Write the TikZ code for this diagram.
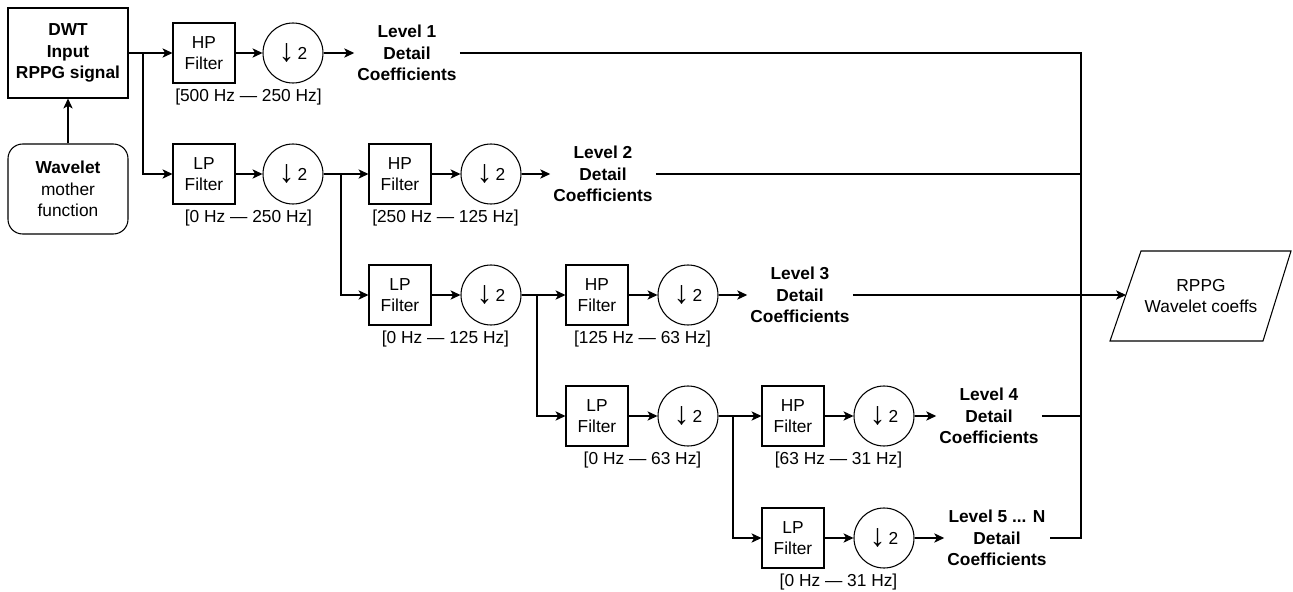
\documentclass[tikz,border=0pt]{standalone}
\usepackage{fontspec}
\setmainfont{Liberation Sans}
\usetikzlibrary{arrows.meta,calc}
\newcommand\dnsamp{\raisebox{-1.5pt}{\fontsize{24}{24}\selectfont ↓}\,2}
\begin{document}
\begin{tikzpicture}[x=0.75pt,y=-0.75pt,
  font=\fontsize{13}{16}\selectfont,
  line width=0.8pt,
  >={Stealth[length=7.5pt,width=7pt,inset=2pt]},
  filt/.style={draw,minimum width=46.5pt,minimum height=45pt,align=center,inner sep=0pt},
  down/.style={draw,circle,minimum size=45pt,inner sep=0pt},
  mainbox/.style={draw,minimum width=90pt,minimum height=67.5pt,align=center,inner sep=0pt},
  lvl/.style={align=center,font=\fontsize{13}{16}\selectfont\bfseries,inner sep=2pt},
  band/.style={anchor=north,inner sep=0pt,yshift=-3.5pt},
]
\useasboundingbox (0,0) rectangle (1293,592);

% input
\node[mainbox,font=\fontsize{13}{16}\selectfont\bfseries] (dwt) at (68,53) {DWT\\Input\\RPPG signal};
\node[mainbox,rounded corners=11pt] (wav) at (68,189) {\textbf{Wavelet}\\mother\\function};
\draw[->] (wav.north) -- (dwt.south);

% level 1
\node[filt] (hp1) at (204,53) {HP\\Filter};
\node[down] (ds1) at (293,53) {\dnsamp};
\node[lvl] (L1) at (407,53) {Level 1\\Detail\\Coefficients};
\node[filt] (lp1) at (204,174) {LP\\Filter};
\node[down] (dl1) at (293,174) {\dnsamp};
\node[band] (t1) at ($(hp1.south)!0.5!(ds1.south)$) {[500 Hz — 250 Hz]};
\node[band] (t2) at ($(lp1.south)!0.5!(dl1.south)$) {[0 Hz — 250 Hz]};
\coordinate (b1) at (143,53);
\draw[->] (dwt.east) -- (hp1.west);
\draw[->] (b1) |- (lp1.west);
\draw[->] (hp1.east) -- (ds1.west);
\draw[->] (ds1.east) -- (L1.west);
\draw[->] (lp1.east) -- (dl1.west);

% level 2
\node[filt] (hp2) at (400,174) {HP\\Filter};
\node[down] (ds2) at (491,174) {\dnsamp};
\node[lvl] (L2) at (603,174) {Level 2\\Detail\\Coefficients};
\node[filt] (lp2) at (400,295) {LP\\Filter};
\node[down] (dl2) at (491,295) {\dnsamp};
\node[band] (t3) at ($(hp2.south)!0.5!(ds2.south)$) {[250 Hz — 125 Hz]};
\node[band] (t4) at ($(lp2.south)!0.5!(dl2.south)$) {[0 Hz — 125 Hz]};
\coordinate (b2) at (341,174);
\draw[->] (dl1.east) -- (hp2.west);
\draw[->] (b2) |- (lp2.west);
\draw[->] (hp2.east) -- (ds2.west);
\draw[->] (ds2.east) -- (L2.west);
\draw[->] (lp2.east) -- (dl2.west);

% level 3
\node[filt] (hp3) at (597,295) {HP\\Filter};
\node[down] (ds3) at (688,295) {\dnsamp};
\node[lvl] (L3) at (800,295) {Level 3\\Detail\\Coefficients};
\node[filt] (lp3) at (597,416) {LP\\Filter};
\node[down] (dl3) at (688,416) {\dnsamp};
\node[band] (t5) at ($(hp3.south)!0.5!(ds3.south)$) {[125 Hz — 63 Hz]};
\node[band] (t6) at ($(lp3.south)!0.5!(dl3.south)$) {[0 Hz — 63 Hz]};
\coordinate (b3) at (537,295);
\draw[->] (dl2.east) -- (hp3.west);
\draw[->] (b3) |- (lp3.west);
\draw[->] (hp3.east) -- (ds3.west);
\draw[->] (ds3.east) -- (L3.west);
\draw[->] (lp3.east) -- (dl3.west);

% level 4
\node[filt] (hp4) at (793,416) {HP\\Filter};
\node[down] (ds4) at (884,416) {\dnsamp};
\node[lvl] (L4) at (989,416) {Level 4\\Detail\\Coefficients};
\node[filt] (lp4) at (793,538) {LP\\Filter};
\node[down] (dl4) at (884,538) {\dnsamp};
\node[lvl] (L5) at (997,538) {Level 5 ... N\\Detail\\Coefficients};
\node[band] (t7) at ($(hp4.south)!0.5!(ds4.south)$) {[63 Hz — 31 Hz]};
\node[band] (t8) at ($(lp4.south)!0.5!(dl4.south)$) {[0 Hz — 31 Hz]};
\coordinate (b4) at (733,416);
\draw[->] (dl3.east) -- (hp4.west);
\draw[->] (b4) |- (lp4.west);
\draw[->] (hp4.east) -- (ds4.west);
\draw[->] (ds4.east) -- (L4.west);
\draw[->] (lp4.east) -- (dl4.west);
\draw[->] (dl4.east) -- (L5.west);

% output
\draw (1141,251) -- (1291,251) -- (1263,341) -- (1110,341) -- cycle;
\node[align=center] (out) at (1201,296) {RPPG\\Wavelet coeffs};
\coordinate (outin) at (1126,295);

% bus
\coordinate (bus) at (1081,53);
\draw (L1.east) -- (L1.east -| bus) -- (L5.east -| bus) -- (L5.east);
\draw (L2.east) -- (L2.east -| bus);
\draw (L4.east) -- (L4.east -| bus);
\draw[->] (L3.east) -- (outin);
\end{tikzpicture}
\end{document}
